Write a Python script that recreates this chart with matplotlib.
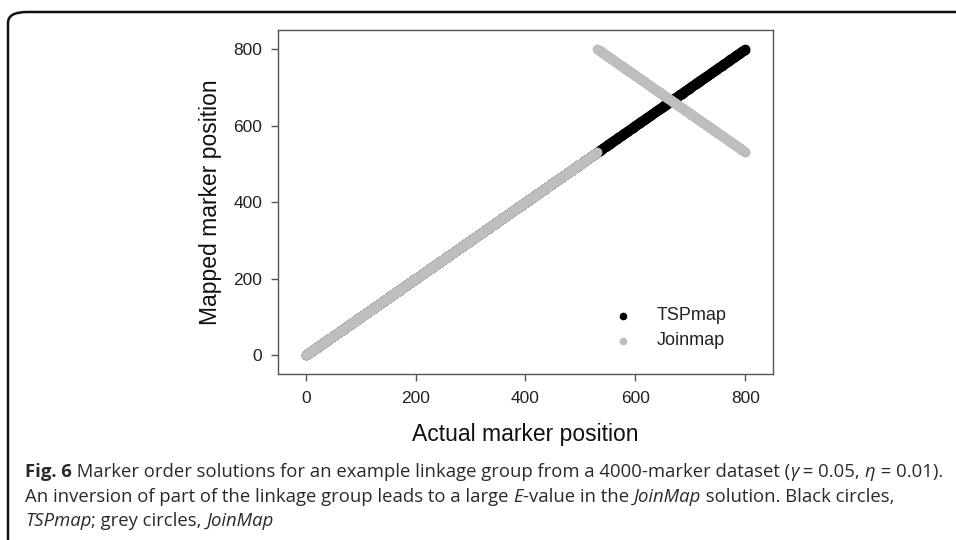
import numpy as np
import matplotlib
matplotlib.use("Agg")
import matplotlib.pyplot as plt
from matplotlib.patches import FancyBboxPatch
from matplotlib.font_manager import FontProperties

# marker positions in one linkage group (800 markers of a 4000-marker dataset)
n_markers = 800
inversion_start = 531  # JoinMap inverts markers 531..800

actual_pos = np.arange(1, n_markers + 1)
tspmap_pos = actual_pos.copy()
joinmap_pos = actual_pos.copy()
joinmap_pos[inversion_start - 1:] = actual_pos[inversion_start - 1:][::-1]

x_ticks = [0, 200, 400, 600, 800]
y_ticks = [0, 200, 400, 600, 800]
legend_labels = ["TSPmap", "Joinmap"]

W, H = 956, 540
fig = plt.figure(figsize=(W / 100, H / 100), dpi=100)

# rounded frame around the figure panel (runs off the right and bottom edge)
frame = FancyBboxPatch((8 / W, -0.2), 1.2, 1.2 - 12 / H, transform=fig.transFigure,
                       boxstyle="round,pad=0,rounding_size=0.02", fill=False,
                       edgecolor="#111111", linewidth=1.8, clip_on=False)
fig.patches.append(frame)

ax = fig.add_axes([277.7 / W, 1 - 374.3 / H, 495 / W, 344.3 / H])
ax.scatter(actual_pos, tspmap_pos, s=36, color="black", label=legend_labels[0], zorder=2)
ax.scatter(actual_pos, joinmap_pos, s=36, color="#bebebe", label=legend_labels[1], zorder=3)

ax.set_xlim(-51, 850)
ax.set_ylim(-50, 850)
ax.set_xticks(x_ticks)
ax.set_yticks(y_ticks)

font = ["Liberation Sans", "DejaVu Sans"]
for sp in ax.spines.values():
    sp.set_color("#555555")
    sp.set_linewidth(1.0)
ax.tick_params(axis="both", length=5, width=1.0, color="#555555", labelsize=12.5,
               labelcolor="#222222")
ax.tick_params(axis="x", pad=7)
ax.tick_params(axis="y", pad=6)
for lab in ax.get_xticklabels() + ax.get_yticklabels():
    lab.set_family(font)

ax.set_xlabel("Actual marker position", fontsize=16.5, family=font, color="#111111", labelpad=12)
ax.set_ylabel("Mapped marker position", fontsize=16.5, family=font, color="#111111", labelpad=8)

leg = ax.legend(loc="lower right", frameon=False, prop={"family": font, "size": 13},
                markerscale=0.75, handletextpad=0.9, labelspacing=0.45,
                bbox_to_anchor=(0.94, 0.025))
for t in leg.get_texts():
    t.set_color("#222222")

# caption with mixed styles, laid out run by run
cap_font = ["Open Sans", "DejaVu Sans"]
cap_size = 13.3
cap_color = "#2a2a2a"
caption_lines = [
    [("Fig. 6", "normal", "bold"), (" Marker order solutions for an example linkage group from a 4000-marker dataset (", "normal", "normal"),
     ("\u03b3", "italic", "normal"), (" = 0.05, ", "normal", "normal"), ("\u03b7", "italic", "normal"),
     (" = 0.01).", "normal", "normal")],
    [("An inversion of part of the linkage group leads to a large ", "normal", "normal"), ("E", "italic", "normal"),
     ("-value in the ", "normal", "normal"), ("JoinMap", "italic", "normal"),
     (" solution. Black circles,", "normal", "normal")],
    [("TSPmap", "italic", "normal"), ("; grey circles, ", "normal", "normal"), ("JoinMap", "italic", "normal")],
]
baselines = [477, 502, 526]

renderer = fig.canvas.get_renderer()


def advance(txt, fp):
    # width of txt between two bars, minus the bars, so spaces and italic overhang count right
    w1, _, _ = renderer.get_text_width_height_descent("|" + txt + "|", fp, ismath=False)
    w0, _, _ = renderer.get_text_width_height_descent("||", fp, ismath=False)
    return w1 - w0


for runs, yb in zip(caption_lines, baselines):
    x = 25
    for txt, style, weight in runs:
        fp = FontProperties(family=cap_font, style=style, weight=weight, size=cap_size)
        fig.text(x / W, 1 - yb / H, txt, fontproperties=fp, va="baseline", ha="left",
                 color=cap_color)
        x += advance(txt, fp)

fig.savefig("out.png", dpi=100)
